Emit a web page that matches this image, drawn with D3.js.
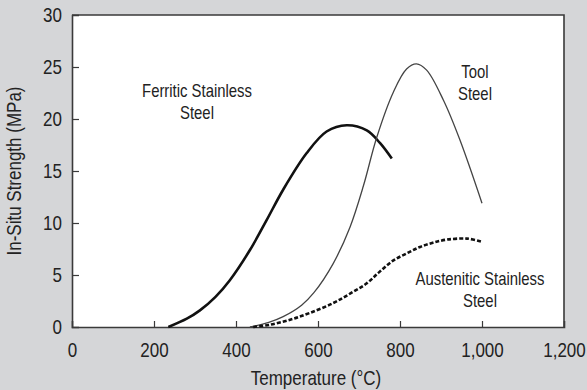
<!DOCTYPE html>
<html>
<head>
<meta charset="utf-8">
<script src="https://cdn.jsdelivr.net/npm/d3@7"></script>
<style>
  html, body { margin: 0; padding: 0; background: #d5d6d8; }
  svg { display: block; font-family: "Liberation Sans", Arial, Helvetica, sans-serif; }
</style>
</head>
<body>
<svg id="chart" width="587" height="390"></svg>
<script>
// Strength curves (MPa) against temperature (°C)
const ferriticTemp = [235, 280, 312, 350, 385, 434, 475, 515, 572, 621, 670, 719, 751, 780];
const ferriticStrength = [0, 0.8, 1.6, 2.9, 4.5, 7.4, 10.3, 13.2, 16.7, 18.8, 19.4, 18.9, 17.7, 16.2];

const toolTemp = [434, 480, 515, 560, 590, 637, 678, 711, 743, 784, 816, 840, 865, 906, 946, 1000];
const toolStrength = [0, 0.45, 1.0, 2.1, 3.3, 6.1, 9.6, 13.6, 18.2, 22.6, 24.8, 25.3, 24.7, 21.8, 18.0, 11.9];

const austeniticTemp = [442, 480, 532, 580, 637, 680, 719, 750, 784, 820, 849, 880, 914, 963, 1000];
const austeniticStrength = [0, 0.2, 0.7, 1.35, 2.3, 3.25, 4.2, 5.3, 6.4, 7.15, 7.7, 8.1, 8.4, 8.5, 8.2];

const xTicks = [0, 200, 400, 600, 800, 1000, 1200];
const yTicks = [0, 5, 10, 15, 20, 25, 30];

const margin = { top: 15, right: 23, bottom: 63, left: 72 };
const W = 587, H = 390;
const iw = W - margin.left - margin.right;
const ih = H - margin.top - margin.bottom;
const SQUEEZE = 0.85;          // narrow-looking lettering
const ink = "#222";

const svg = d3.select("#chart");
const g = svg.append("g").attr("transform", `translate(${margin.left},${margin.top})`);

const x = d3.scaleLinear().domain([0, 1200]).range([0, iw]);
const y = d3.scaleLinear().domain([0, 30]).range([ih, 0]);

// plot panel
g.append("rect").attr("width", iw).attr("height", ih).attr("fill", "#ffffff");

// frame on top and right
g.append("path")
  .attr("d", `M0,0H${iw}V${ih}`)
  .attr("fill", "none").attr("stroke", "#3a3a3a").attr("stroke-width", 1.6);

const fmt = d3.format(",");

const xAxis = g.append("g").attr("transform", `translate(0,${ih})`)
  .call(d3.axisBottom(x).tickValues(xTicks).tickSize(-6).tickPadding(16).tickFormat(fmt));
const yAxis = g.append("g")
  .call(d3.axisLeft(y).tickValues(yTicks).tickSize(-7).tickPadding(10));

[xAxis, yAxis].forEach(a => {
  a.select(".domain").attr("stroke", "#3a3a3a").attr("stroke-width", 1.6);
  a.selectAll(".tick line").attr("stroke", "#3a3a3a").attr("stroke-width", 1.2);
  a.selectAll(".tick text").attr("fill", ink).style("font-size", "20px")
    .style("font-family", "'Liberation Sans', Arial, sans-serif")
    .attr("transform", `scale(${SQUEEZE},1)`);
});
yAxis.selectAll(".tick text").attr("x", -10 / SQUEEZE);
// hide the end ticks that sit on the frame
xAxis.selectAll(".tick line").filter(d => d === 0 || d === 1200).remove();
yAxis.selectAll(".tick line").filter(d => d === 0 || d === 30).remove();

// curves
const line = d3.line().curve(d3.curveCatmullRom.alpha(0.5)).x(d => x(d[0])).y(d => y(d[1]));

const series = [
  { t: ferriticTemp, v: ferriticStrength, stroke: "#111", width: 2.6, dash: null },
  { t: toolTemp, v: toolStrength, stroke: "#444", width: 1.3, dash: null },
  { t: austeniticTemp, v: austeniticStrength, stroke: "#111", width: 2.6, dash: "4,2" }
];
series.forEach(s => {
  g.append("path")
    .datum(s.t.map((t, i) => [t, s.v[i]]))
    .attr("d", line)
    .attr("fill", "none")
    .attr("stroke", s.stroke)
    .attr("stroke-width", s.width)
    .attr("stroke-dasharray", s.dash)
    .attr("stroke-linecap", "butt");
});

// centred, narrowed text helper
function label(txt, cx, cy, size, rotate) {
  svg.append("text")
    .attr("transform", `translate(${cx},${cy})${rotate ? " rotate(-90)" : ""} scale(${SQUEEZE},1)`)
    .attr("text-anchor", "middle")
    .attr("fill", ink)
    .style("font-size", size + "px")
    .text(txt);
}

// curve labels
const labels = [
  { lines: ["Ferritic Stainless", "Steel"], cx: 197, y0: 97 },
  { lines: ["Tool", "Steel"], cx: 475, y0: 78 },
  { lines: ["Austenitic Stainless", "Steel"], cx: 480, y0: 285 }
];
labels.forEach(l => l.lines.forEach((txt, i) => label(txt, l.cx, l.y0 + i * 21.5, 17.5)));

// axis titles
label("Temperature (°C)", margin.left + iw / 2 - 2, 385, 20);
label("In-Situ Strength (MPa)", 21, margin.top + ih / 2, 20, true);
</script>
</body>
</html>
